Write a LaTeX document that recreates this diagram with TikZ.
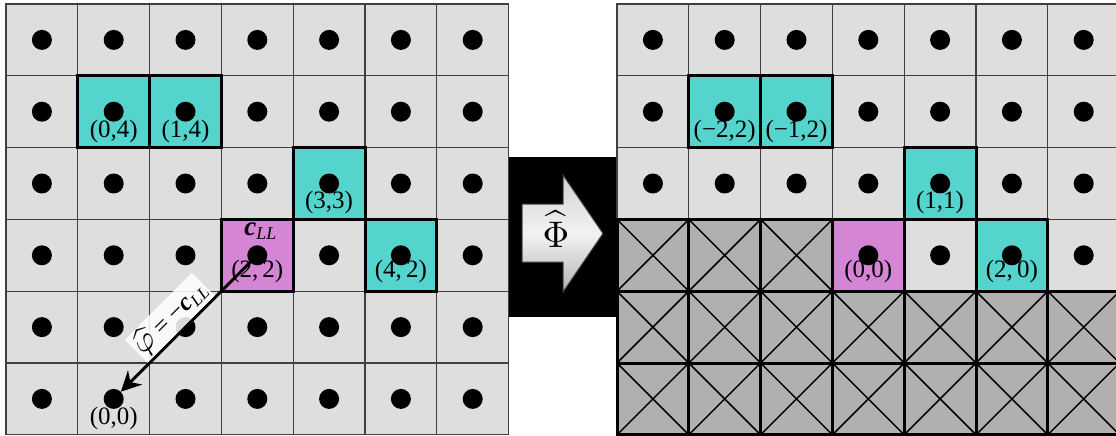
\documentclass[tikz,border=0pt]{standalone}
\usepackage{fontspec}
\setmainfont{Liberation Serif}
\usetikzlibrary{arrows.meta}
\definecolor{cellgray}{HTML}{DEDEDE}
\definecolor{tealc}{HTML}{55D3CD}
\definecolor{pinkc}{HTML}{D485D4}
\definecolor{hatchc}{HTML}{B0B0B0}
\definecolor{gridc}{HTML}{404040}
\newcommand{\cLL}[1]{{\bfseries\itshape c}\raisebox{-0.35ex}{\fontsize{#1}{#1}\selectfont\itshape LL}}
\begin{document}
\begin{tikzpicture}[x=1pt,y=-1pt,
  cellbg/.style={fill=cellgray, draw=gridc, line width=1.2pt},
  hatchfill/.style={fill=hatchc},
  hatchborder/.style={draw=black, line width=3pt},
  tealcell/.style={fill=tealc, draw=black, line width=3pt},
  pinkcell/.style={fill=pinkc, draw=black, line width=3pt},
  xline/.style={draw=black, line width=1.5pt},
  dotn/.style={circle, fill=black, inner sep=0pt, minimum size=20pt},
  lbl/.style={font=\fontsize{25}{27}\selectfont, anchor=south, inner sep=0pt},
  conn/.style={line width=3pt, -{Stealth[length=20pt,width=20pt]}},
  bigarrow/.style={draw=gridc, line width=1pt, top color=gray!35, bottom color=gray!60, middle color=gray!10},
]
\def\cs{71.8}
\useasboundingbox (0,0) rectangle (1116,436);
\fill[black] (509,157) rectangle (617,317);
% ---------- left grid ----------
\foreach \c in {0,...,6}{\foreach \r in {0,...,5}{
  \path[cellbg] ({6+\c*\cs},{4+\r*\cs}) rectangle ++(\cs,\cs);
}}
\foreach \c/\r in {1/1,2/1,4/2,5/3}{
  \path[tealcell] ({6+\c*\cs},{4+\r*\cs}) rectangle ++(\cs,\cs);
}
\path[pinkcell] ({6+3*\cs},{4+3*\cs}) rectangle ++(\cs,\cs);
\foreach \c in {0,...,6}{\foreach \r in {0,...,5}{
  \node[dotn] (L\c-\r) at ({6+(\c+0.5)*\cs},{4+(\r+0.5)*\cs}) {};
}}
\node[lbl] (la04) at ({6+1.5*\cs},{4+2*\cs-5}) {(0,4)};
\node[lbl] (la14) at ({6+2.5*\cs},{4+2*\cs-5}) {(1,4)};
\node[lbl] (la33) at ({6+4.5*\cs},{4+3*\cs-5}) {(3,3)};
\node[lbl] (la22) at ({6+3.5*\cs},{4+4*\cs-8}) {(2,\,2)};
\node[lbl] (la42) at ({6+5.5*\cs},{4+4*\cs-8}) {(4,\,2)};
\node[lbl] (la00) at ({6+1.5*\cs},{4+6*\cs-5}) {(0,0)};
\node[anchor=north, inner sep=0pt, font=\fontsize{27}{29}\selectfont] (cll) at ({6+3.5*\cs+3},{4+3*\cs+3}) {\cLL{18}};
\draw[conn] (L3-3.center) -- (L1-5)
  node[pos=0.55, sloped, above, fill=white, fill opacity=0.85, text opacity=1, inner sep=2pt, font=\fontsize{25}{27}\selectfont] (phil) {\scalebox{3.1}{\normalsize$\widehat{\varphi}$} = −\cLL{17}};
% ---------- big arrow ----------
\path[bigarrow] (522,204) -- (563,204) -- (563,175) -- (603,233.5) -- (563,292) -- (563,262) -- (522,262) -- cycle;
\node[inner sep=0pt] (Phi) at (556,229) {\scalebox{3.7}{\normalsize$\widehat{\Phi}$}};
% ---------- right grid ----------
\begin{scope}
\clip (600,0) rectangle (1116,436);
\foreach \c in {0,...,6}{\foreach \r in {0,...,5}{
  \path[cellbg] ({617+\c*\cs},{4+\r*\cs}) rectangle ++(\cs,\cs);
}}
\foreach \c/\r in {0/3,1/3,2/3,0/4,1/4,2/4,3/4,4/4,5/4,6/4,0/5,1/5,2/5,3/5,4/5,5/5,6/5}{
  \path[hatchfill] ({617+\c*\cs},{4+\r*\cs}) rectangle ++(\cs,\cs);
  \draw[xline] ({617+\c*\cs},{4+\r*\cs}) -- ++(\cs,\cs) ({617+(\c+1)*\cs},{4+\r*\cs}) -- ++(-\cs,\cs);
}
\foreach \c/\r in {0/3,1/3,2/3,0/4,1/4,2/4,3/4,4/4,5/4,6/4,0/5,1/5,2/5,3/5,4/5,5/5,6/5}{
  \path[hatchborder] ({617+\c*\cs},{4+\r*\cs}) rectangle ++(\cs,\cs);
}
\foreach \c/\r in {1/1,2/1,4/2,5/3}{
  \path[tealcell] ({617+\c*\cs},{4+\r*\cs}) rectangle ++(\cs,\cs);
}
\path[pinkcell] ({617+3*\cs},{4+3*\cs}) rectangle ++(\cs,\cs);
\foreach \c in {0,...,6}{\foreach \r in {0,...,2}{
  \node[dotn] (R\c-\r) at ({617+(\c+0.5)*\cs},{4+(\r+0.5)*\cs}) {};
}}
\foreach \c in {3,...,6}{
  \node[dotn] (R\c-3) at ({617+(\c+0.5)*\cs},{4+3.5*\cs}) {};
}
\node[lbl] (rm22) at ({617+1.5*\cs},{4+2*\cs-5}) {(−2,2)};
\node[lbl] (rm12) at ({617+2.5*\cs},{4+2*\cs-5}) {(−1,2)};
\node[lbl] (r11) at ({617+4.5*\cs},{4+3*\cs-5}) {(1,1)};
\node[lbl] (r00) at ({617+3.5*\cs},{4+4*\cs-8}) {(0,0)};
\node[lbl] (r20) at ({617+5.5*\cs},{4+4*\cs-8}) {(2,\,0)};
\end{scope}
\end{tikzpicture}
\end{document}
